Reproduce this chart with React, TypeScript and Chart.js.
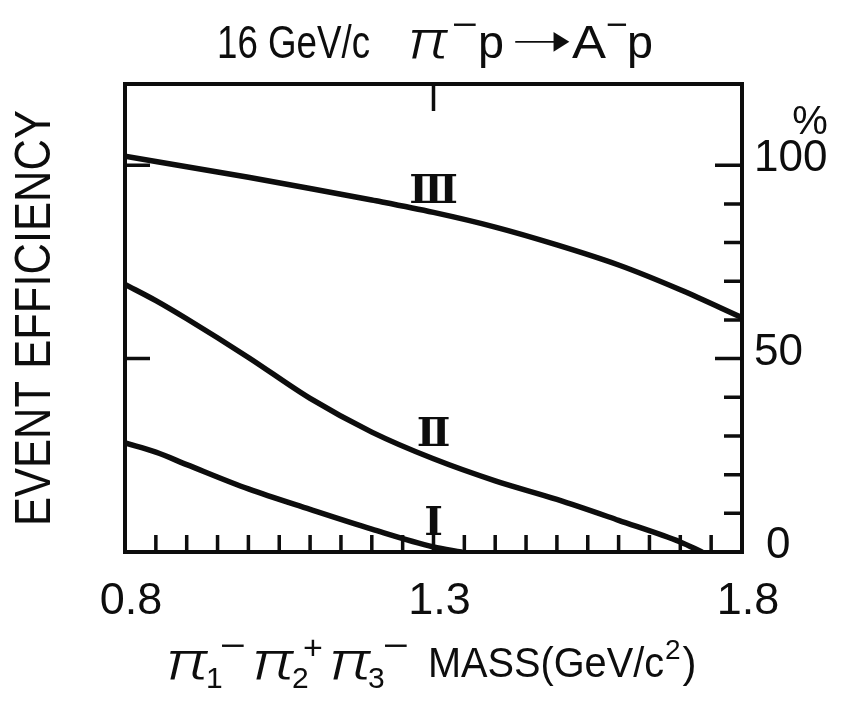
import React, { useEffect, useRef } from "react";
import { Chart, registerables } from "chart.js";

Chart.register(...registerables);

// Event efficiency (%) versus π1− π2+ π3− mass (GeV/c²) for the three selections
const massI = [0.8, 0.85, 0.9, 1.0, 1.1, 1.2, 1.3, 1.345];
const effI = [28.2, 25.8, 22.6, 16.3, 11.0, 5.9, 1.3, 0];

const massII = [0.8, 0.85, 0.9, 1.0, 1.1, 1.2, 1.3, 1.4, 1.5, 1.6, 1.7, 1.735];
const effII = [69.2, 65.0, 60.3, 50.3, 39.7, 31.0, 24.1, 18.4, 13.6, 8.2, 2.6, 0];

const massIII = [0.8, 0.9, 1.0, 1.1, 1.2, 1.3, 1.4, 1.5, 1.6, 1.7, 1.8];
const effIII = [102.3, 99.6, 96.9, 94.0, 91.0, 87.8, 84.0, 79.4, 74.2, 67.8, 60.6];

const curveNames = ["Ⅰ", "Ⅱ", "Ⅲ"];
const curveLabelMass = [1.3, 1.3, 1.3];
const curveLabelEff = [7, 30, 93];

const xTickLabels = ["0.8", "1.3", "1.8"];
const xTickValues = [0.8, 1.3, 1.8];
const xMinorTicks = [
  0.85, 0.9, 0.95, 1.0, 1.05, 1.1, 1.15, 1.2, 1.25, 1.3,
  1.35, 1.4, 1.45, 1.5, 1.55, 1.6, 1.65, 1.7, 1.75,
];
const xTopTicks = [1.3];

const yTickLabels = ["0", "50", "100"];
const yTickValues = [0, 50, 100];
const yMajorTicks = [50, 100];
const yMinorTicks = [10, 20, 30, 40, 60, 70, 80, 90];

const X_MIN = 0.8;
const X_MAX = 1.8;
const Y_MIN = 0;
const Y_MAX = 121;

const INK = "#0d0d0d";
const SANS = "'Liberation Sans', Arial, sans-serif";
const PI_FONT = "italic 300 54px Roboto, 'DejaVu Sans', sans-serif";

// Draws one text piece at (x, y); an optional width squeezes or stretches it to fit
function drawAt(
  ctx: CanvasRenderingContext2D,
  t: string,
  font: string,
  x: number,
  y: number,
  width?: number
): number {
  ctx.font = font;
  const w = ctx.measureText(t).width;
  const sx = width ? width / w : 1;
  ctx.save();
  ctx.translate(x, y);
  ctx.scale(sx, 1);
  ctx.fillText(t, 0, 0);
  ctx.restore();
  return x + w * sx;
}

const framePlugin = {
  id: "frame",
  beforeDraw(chart: any) {
    const ctx = chart.ctx as CanvasRenderingContext2D;
    ctx.save();
    ctx.fillStyle = "#ffffff";
    ctx.fillRect(0, 0, chart.width, chart.height);
    ctx.restore();
  },
  afterDatasetsDraw(chart: any) {
    const ctx = chart.ctx as CanvasRenderingContext2D;
    const { left, right, top, bottom } = chart.chartArea;
    const xs = chart.scales.x;
    const ys = chart.scales.y;

    ctx.save();
    ctx.strokeStyle = INK;
    ctx.fillStyle = INK;

    // frame
    ctx.lineWidth = 4;
    ctx.lineJoin = "miter";
    ctx.strokeRect(left, top, right - left, bottom - top);

    // ticks, all pointing inward
    ctx.lineWidth = 3.5;
    ctx.lineCap = "butt";
    ctx.beginPath();
    for (const v of xMinorTicks) {
      const px = xs.getPixelForValue(v);
      ctx.moveTo(px, bottom);
      ctx.lineTo(px, bottom - 17);
    }
    for (const v of xTopTicks) {
      const px = xs.getPixelForValue(v);
      ctx.moveTo(px, top);
      ctx.lineTo(px, top + 27);
    }
    for (const v of yMajorTicks) {
      const py = ys.getPixelForValue(v);
      ctx.moveTo(left, py);
      ctx.lineTo(left + 25, py);
      ctx.moveTo(right, py);
      ctx.lineTo(right - 27, py);
    }
    for (const v of yMinorTicks) {
      const py = ys.getPixelForValue(v);
      ctx.moveTo(right, py);
      ctx.lineTo(right - 18, py);
    }
    ctx.stroke();

    // x tick labels
    ctx.font = `45px ${SANS}`;
    ctx.textAlign = "center";
    ctx.textBaseline = "middle";
    xTickValues.forEach((v, i) => {
      ctx.fillText(xTickLabels[i], xs.getPixelForValue(v) + 6, bottom + 50);
    });

    // right-hand y tick labels
    ctx.textAlign = "left";
    ctx.font = `44px ${SANS}`;
    yTickValues.forEach((v, i) => {
      const dx = v === 0 ? 12 : 0;
      ctx.fillText(yTickLabels[i], right + 12 + dx, ys.getPixelForValue(v) - 6);
    });
    ctx.font = `40px ${SANS}`;
    ctx.textAlign = "center";
    ctx.fillText("%", right + 68, ys.getPixelForValue(100) - 42);

    // curve names
    ctx.font = `bold 40px 'DejaVu Serif', serif`;
    ctx.textAlign = "center";
    ctx.textBaseline = "middle";
    curveNames.forEach((name, i) => {
      ctx.fillText(
        name,
        xs.getPixelForValue(curveLabelMass[i]),
        ys.getPixelForValue(curveLabelEff[i])
      );
    });

    // main title
    ctx.textAlign = "left";
    ctx.textBaseline = "alphabetic";
    const tb = 58;
    const tf = `46px ${SANS}`;
    drawAt(ctx, "16 GeV/c", tf, 217, tb, 153);
    drawAt(ctx, "π", PI_FONT, 408, tb, 40);
    drawAt(ctx, "−", `34px ${SANS}`, 452, tb - 22, 26);
    drawAt(ctx, "p", tf, 478, tb, 26);
    drawAt(ctx, "➝", `46px 'DejaVu Sans', sans-serif`, 511, tb - 2, 62);
    drawAt(ctx, "A", tf, 572, tb, 34);
    drawAt(ctx, "−", `34px ${SANS}`, 606, tb - 22, 22);
    drawAt(ctx, "p", tf, 627, tb, 26);

    // x axis title
    const xb = 679;
    const sub = `30px ${SANS}`;
    drawAt(ctx, "π", PI_FONT, 166, xb, 42);
    drawAt(ctx, "1", sub, 206, xb + 9);
    drawAt(ctx, "−", `34px ${SANS}`, 220, xb - 22, 26);
    drawAt(ctx, "π", PI_FONT, 252, xb, 42);
    drawAt(ctx, "2", sub, 292, xb + 9);
    drawAt(ctx, "+", `34px ${SANS}`, 303, xb - 20);
    drawAt(ctx, "π", PI_FONT, 329, xb, 42);
    drawAt(ctx, "3", sub, 368, xb + 9);
    drawAt(ctx, "−", `34px ${SANS}`, 383, xb - 22, 26);
    let cx = drawAt(ctx, "MASS(GeV/c", `42px ${SANS}`, 428, xb - 2, 236);
    cx = drawAt(ctx, "2", `28px ${SANS}`, cx + 1, xb - 20);
    drawAt(ctx, ")", `42px ${SANS}`, cx + 2, xb - 2);

    // y axis title
    ctx.save();
    ctx.translate(36, 318);
    ctx.rotate(-Math.PI / 2);
    ctx.font = `50px ${SANS}`;
    const w = ctx.measureText("EVENT EFFICIENCY").width;
    ctx.scale(416 / w, 1);
    ctx.textAlign = "center";
    ctx.textBaseline = "middle";
    ctx.fillText("EVENT EFFICIENCY", 0, 0);
    ctx.restore();

    ctx.restore();
  },
};

function toPoints(xs: number[], ys: number[]) {
  return xs.map((x, i) => ({ x, y: ys[i] }));
}

export default function App() {
  const canvasRef = useRef<HTMLCanvasElement | null>(null);

  useEffect(() => {
    document.body.style.margin = "0";
    const canvas = canvasRef.current;
    if (!canvas) return;

    const lineStyle = {
      borderColor: INK,
      borderWidth: 5.5,
      pointRadius: 0,
      fill: false,
      tension: 0.4,
      cubicInterpolationMode: "monotone" as const,
      borderCapStyle: "round" as const,
    };

    const chart = new Chart(canvas, {
      type: "line",
      data: {
        datasets: [
          { label: "I", data: toPoints(massI, effI), ...lineStyle },
          { label: "II", data: toPoints(massII, effII), ...lineStyle },
          { label: "III", data: toPoints(massIII, effIII), ...lineStyle },
        ],
      },
      options: {
        animation: false,
        responsive: false,
        devicePixelRatio: 1,
        layout: { padding: { left: 125, right: 105, top: 84, bottom: 149 } },
        scales: {
          x: { type: "linear", min: X_MIN, max: X_MAX, display: false },
          y: { type: "linear", min: Y_MIN, max: Y_MAX, display: false },
        },
        plugins: {
          legend: { display: false },
          tooltip: { enabled: false },
          title: { display: false },
        },
        events: [],
      },
      plugins: [framePlugin],
    });

    return () => chart.destroy();
  }, []);

  return (
    <div style={{ width: 847, height: 701, background: "#fff" }}>
      <canvas ref={canvasRef} width={847} height={701} style={{ display: "block" }} />
    </div>
  );
}
